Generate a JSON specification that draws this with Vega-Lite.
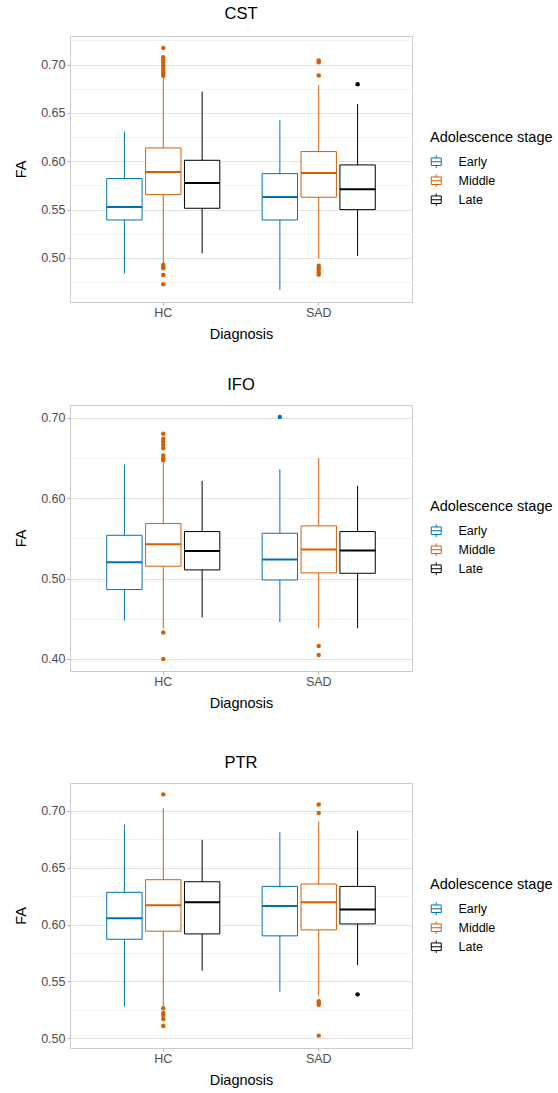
{
  "$schema": "https://vega.github.io/schema/vega-lite/v6.json",
  "background": "white",
  "padding": {"left": 13, "top": 5, "right": 0, "bottom": 0},
  "config": {
    "font": "Liberation Sans",
    "view": {"stroke": "#cccccc", "strokeWidth": 1},
    "axis": {"labelColor": "#4d4d4d", "labelFontSize": 12.5, "titleFontSize": 14.5, "titleFontWeight": "normal", "titleColor": "#000000", "tickColor": "#b3b3b3", "tickSize": 3, "domain": false, "gridColor": "#e3e3e3", "labelPadding": 2, "labelOverlap": false},
    "axisX": {"labelPadding": 1, "titlePadding": 9},
    "title": {"fontSize": 16.5, "fontWeight": "normal", "color": "#000000", "anchor": "middle", "offset": 12},
    "legend": {"titleFontSize": 14.5, "titleFontWeight": "normal", "titleColor": "#000000", "labelFontSize": 12.5, "labelColor": "#000000", "symbolFillColor": "white", "symbolStrokeWidth": 1}
  },
  "datasets": {
    "boxes": [
      {"tract": "CST", "Diagnosis": "HC", "Stage": "Early", "lower": 0.4841, "q1": 0.5393, "median": 0.5528, "q3": 0.5821, "upper": 0.6307},
      {"tract": "CST", "Diagnosis": "HC", "Stage": "Middle", "lower": 0.4945, "q1": 0.5655, "median": 0.5890, "q3": 0.6138, "upper": 0.6869},
      {"tract": "CST", "Diagnosis": "HC", "Stage": "Late", "lower": 0.5048, "q1": 0.5514, "median": 0.5776, "q3": 0.6010, "upper": 0.6721},
      {"tract": "CST", "Diagnosis": "SAD", "Stage": "Early", "lower": 0.4669, "q1": 0.5393, "median": 0.5631, "q3": 0.5872, "upper": 0.6428},
      {"tract": "CST", "Diagnosis": "SAD", "Stage": "Middle", "lower": 0.4993, "q1": 0.5628, "median": 0.5879, "q3": 0.6100, "upper": 0.6786},
      {"tract": "CST", "Diagnosis": "SAD", "Stage": "Late", "lower": 0.5021, "q1": 0.5500, "median": 0.5710, "q3": 0.5962, "upper": 0.6593},
      {"tract": "IFO", "Diagnosis": "HC", "Stage": "Early", "lower": 0.4477, "q1": 0.4863, "median": 0.5203, "q3": 0.5539, "upper": 0.6419},
      {"tract": "IFO", "Diagnosis": "HC", "Stage": "Middle", "lower": 0.4382, "q1": 0.5154, "median": 0.5427, "q3": 0.5685, "upper": 0.6456},
      {"tract": "IFO", "Diagnosis": "HC", "Stage": "Late", "lower": 0.4515, "q1": 0.5108, "median": 0.5344, "q3": 0.5585, "upper": 0.6216},
      {"tract": "IFO", "Diagnosis": "SAD", "Stage": "Early", "lower": 0.4456, "q1": 0.4983, "median": 0.5237, "q3": 0.5564, "upper": 0.6361},
      {"tract": "IFO", "Diagnosis": "SAD", "Stage": "Middle", "lower": 0.4382, "q1": 0.5071, "median": 0.5361, "q3": 0.5656, "upper": 0.6498},
      {"tract": "IFO", "Diagnosis": "SAD", "Stage": "Late", "lower": 0.4382, "q1": 0.5066, "median": 0.5349, "q3": 0.5585, "upper": 0.6154},
      {"tract": "PTR", "Diagnosis": "HC", "Stage": "Early", "lower": 0.5278, "q1": 0.5871, "median": 0.6056, "q3": 0.6284, "upper": 0.6880},
      {"tract": "PTR", "Diagnosis": "HC", "Stage": "Middle", "lower": 0.5281, "q1": 0.5942, "median": 0.6170, "q3": 0.6395, "upper": 0.7023},
      {"tract": "PTR", "Diagnosis": "HC", "Stage": "Late", "lower": 0.5596, "q1": 0.5918, "median": 0.6196, "q3": 0.6377, "upper": 0.6746},
      {"tract": "PTR", "Diagnosis": "SAD", "Stage": "Early", "lower": 0.5409, "q1": 0.5901, "median": 0.6164, "q3": 0.6336, "upper": 0.6813},
      {"tract": "PTR", "Diagnosis": "SAD", "Stage": "Middle", "lower": 0.5374, "q1": 0.5953, "median": 0.6196, "q3": 0.6357, "upper": 0.6906},
      {"tract": "PTR", "Diagnosis": "SAD", "Stage": "Late", "lower": 0.5643, "q1": 0.6006, "median": 0.6132, "q3": 0.6336, "upper": 0.6825}
    ],
    "outliers": [
      {"tract": "CST", "Diagnosis": "HC", "Stage": "Middle", "FA": 0.7172},
      {"tract": "CST", "Diagnosis": "HC", "Stage": "Middle", "FA": 0.7076},
      {"tract": "CST", "Diagnosis": "HC", "Stage": "Middle", "FA": 0.7048},
      {"tract": "CST", "Diagnosis": "HC", "Stage": "Middle", "FA": 0.7021},
      {"tract": "CST", "Diagnosis": "HC", "Stage": "Middle", "FA": 0.6993},
      {"tract": "CST", "Diagnosis": "HC", "Stage": "Middle", "FA": 0.6966},
      {"tract": "CST", "Diagnosis": "HC", "Stage": "Middle", "FA": 0.6938},
      {"tract": "CST", "Diagnosis": "HC", "Stage": "Middle", "FA": 0.6910},
      {"tract": "CST", "Diagnosis": "HC", "Stage": "Middle", "FA": 0.6883},
      {"tract": "CST", "Diagnosis": "HC", "Stage": "Middle", "FA": 0.4928},
      {"tract": "CST", "Diagnosis": "HC", "Stage": "Middle", "FA": 0.4910},
      {"tract": "CST", "Diagnosis": "HC", "Stage": "Middle", "FA": 0.4893},
      {"tract": "CST", "Diagnosis": "HC", "Stage": "Middle", "FA": 0.4824},
      {"tract": "CST", "Diagnosis": "HC", "Stage": "Middle", "FA": 0.4728},
      {"tract": "CST", "Diagnosis": "SAD", "Stage": "Middle", "FA": 0.7041},
      {"tract": "CST", "Diagnosis": "SAD", "Stage": "Middle", "FA": 0.7024},
      {"tract": "CST", "Diagnosis": "SAD", "Stage": "Middle", "FA": 0.6886},
      {"tract": "CST", "Diagnosis": "SAD", "Stage": "Middle", "FA": 0.4921},
      {"tract": "CST", "Diagnosis": "SAD", "Stage": "Middle", "FA": 0.4900},
      {"tract": "CST", "Diagnosis": "SAD", "Stage": "Middle", "FA": 0.4876},
      {"tract": "CST", "Diagnosis": "SAD", "Stage": "Middle", "FA": 0.4848},
      {"tract": "CST", "Diagnosis": "SAD", "Stage": "Middle", "FA": 0.4828},
      {"tract": "CST", "Diagnosis": "SAD", "Stage": "Late", "FA": 0.6797},
      {"tract": "IFO", "Diagnosis": "HC", "Stage": "Middle", "FA": 0.6801},
      {"tract": "IFO", "Diagnosis": "HC", "Stage": "Middle", "FA": 0.6739},
      {"tract": "IFO", "Diagnosis": "HC", "Stage": "Middle", "FA": 0.6705},
      {"tract": "IFO", "Diagnosis": "HC", "Stage": "Middle", "FA": 0.6664},
      {"tract": "IFO", "Diagnosis": "HC", "Stage": "Middle", "FA": 0.6622},
      {"tract": "IFO", "Diagnosis": "HC", "Stage": "Middle", "FA": 0.6531},
      {"tract": "IFO", "Diagnosis": "HC", "Stage": "Middle", "FA": 0.6498},
      {"tract": "IFO", "Diagnosis": "HC", "Stage": "Middle", "FA": 0.6473},
      {"tract": "IFO", "Diagnosis": "HC", "Stage": "Middle", "FA": 0.4328},
      {"tract": "IFO", "Diagnosis": "HC", "Stage": "Middle", "FA": 0.4000},
      {"tract": "IFO", "Diagnosis": "SAD", "Stage": "Early", "FA": 0.7012},
      {"tract": "IFO", "Diagnosis": "SAD", "Stage": "Middle", "FA": 0.4162},
      {"tract": "IFO", "Diagnosis": "SAD", "Stage": "Middle", "FA": 0.4050},
      {"tract": "PTR", "Diagnosis": "HC", "Stage": "Middle", "FA": 0.7146},
      {"tract": "PTR", "Diagnosis": "HC", "Stage": "Middle", "FA": 0.5263},
      {"tract": "PTR", "Diagnosis": "HC", "Stage": "Middle", "FA": 0.5222},
      {"tract": "PTR", "Diagnosis": "HC", "Stage": "Middle", "FA": 0.5205},
      {"tract": "PTR", "Diagnosis": "HC", "Stage": "Middle", "FA": 0.5170},
      {"tract": "PTR", "Diagnosis": "HC", "Stage": "Middle", "FA": 0.5108},
      {"tract": "PTR", "Diagnosis": "SAD", "Stage": "Middle", "FA": 0.7056},
      {"tract": "PTR", "Diagnosis": "SAD", "Stage": "Middle", "FA": 0.6982},
      {"tract": "PTR", "Diagnosis": "SAD", "Stage": "Middle", "FA": 0.5325},
      {"tract": "PTR", "Diagnosis": "SAD", "Stage": "Middle", "FA": 0.5310},
      {"tract": "PTR", "Diagnosis": "SAD", "Stage": "Middle", "FA": 0.5295},
      {"tract": "PTR", "Diagnosis": "SAD", "Stage": "Middle", "FA": 0.5023},
      {"tract": "PTR", "Diagnosis": "SAD", "Stage": "Late", "FA": 0.5386}
    ]
  },
  "resolve": {"scale": {"x": "independent", "y": "independent", "color": "independent", "stroke": "independent"}, "legend": {"stroke": "independent", "color": "independent"}},
  "spacing": 43,
  "vconcat": [
    {
      "resolve": {"scale": {"x": "independent", "y": "independent", "color": "independent", "stroke": "independent"}, "legend": {"stroke": "independent", "color": "independent"}},
      "spacing": 34,
      "vconcat": [
        {
          "width": 342, "height": 266,
          "title": {"text": "CST"},
          "layer": [
            {"data": {"name": "boxes"}, "transform": [{"filter": "datum.tract === 'CST'"}],
             "mark": {"type": "rule", "strokeWidth": 1},
             "encoding": {
               "x": {"field": "Diagnosis", "type": "nominal", "title": "Diagnosis", "scale": {"type": "band", "paddingInner": 0.25, "paddingOuter": 0.225}, "axis": {"labelAngle": 0, "grid": false}},
               "xOffset": {"field": "Stage", "type": "nominal", "sort": ["Early", "Middle", "Late"], "scale": {"paddingInner": 0.09, "paddingOuter": 0.045}},
               "y": {"field": "lower", "type": "quantitative", "title": "FA", "scale": {"domain": [0.4545, 0.7295], "nice": false, "zero": false},
                     "axis": {"titlePadding": 12, "tickCount": 40, "values": [0.475, 0.5, 0.525, 0.55, 0.575, 0.6, 0.625, 0.65, 0.675, 0.7, 0.725],
                              "labelExpr": "abs(datum.value*20 - round(datum.value*20)) > 0.01 ? '' : format(datum.value, '.2f')",
                              "gridColor": {"condition": {"test": "abs(datum.value*20 - round(datum.value*20)) > 0.01", "value": "#f2f2f2"}, "value": "#e3e3e3"},
                              "tickOpacity": {"condition": {"test": "abs(datum.value*20 - round(datum.value*20)) > 0.01", "value": 0}, "value": 1}}},
               "y2": {"field": "upper"},
               "stroke": {"field": "Stage", "type": "nominal", "scale": {"domain": ["Early", "Middle", "Late"], "range": ["#0072B2", "#D55E00", "#000000"]},
                         "legend": {"title": "Adolescence stage", "orient": "none", "legendX": 360, "legendY": 95, "symbolType": "M-0.95,-0.72H0.95M0.95,-0.72V0.72M0.95,0.72H-0.95M-0.95,0.72V-0.72M-0.95,0H0.95M0,-0.72V-1.2M0,0.72V1.2", "symbolSize": 110, "symbolFillColor": "white", "symbolStrokeWidth": 1, "rowPadding": 1, "titlePadding": 10, "labelOffset": 16}}
             }},
            {"data": {"name": "boxes"}, "transform": [{"filter": "datum.tract === 'CST'"}],
             "mark": {"type": "bar", "fill": "white"},
             "encoding": {
               "x": {"field": "Diagnosis", "type": "nominal", "title": "Diagnosis"},
               "xOffset": {"field": "Stage", "type": "nominal", "sort": ["Early", "Middle", "Late"]},
               "y": {"field": "q1", "type": "quantitative", "title": "FA"}, "y2": {"field": "q3"}
             }},
            {"data": {"name": "boxes"}, "transform": [{"filter": "datum.tract === 'CST'"}],
             "mark": {"type": "bar", "filled": false, "strokeWidth": 1},
             "encoding": {
               "x": {"field": "Diagnosis", "type": "nominal", "title": "Diagnosis"},
               "xOffset": {"field": "Stage", "type": "nominal", "sort": ["Early", "Middle", "Late"]},
               "y": {"field": "q1", "type": "quantitative", "title": "FA"}, "y2": {"field": "q3"},
               "stroke": {"field": "Stage", "type": "nominal"}
             }},
            {"data": {"name": "boxes"}, "transform": [{"filter": "datum.tract === 'CST'"}],
             "mark": {"type": "bar", "filled": false, "strokeWidth": 2},
             "encoding": {
               "x": {"field": "Diagnosis", "type": "nominal", "title": "Diagnosis"},
               "xOffset": {"field": "Stage", "type": "nominal", "sort": ["Early", "Middle", "Late"]},
               "y": {"field": "median", "type": "quantitative", "title": "FA"}, "y2": {"field": "median"},
               "stroke": {"field": "Stage", "type": "nominal"}
             }},
            {"data": {"name": "outliers"}, "transform": [{"filter": "datum.tract === 'CST'"}],
             "mark": {"type": "point", "filled": true, "size": 20, "opacity": 1, "shape": "circle"},
             "encoding": {
               "x": {"field": "Diagnosis", "type": "nominal", "title": "Diagnosis"},
               "xOffset": {"field": "Stage", "type": "nominal", "sort": ["Early", "Middle", "Late"]},
               "y": {"field": "FA", "type": "quantitative", "title": "FA"},
               "color": {"field": "Stage", "type": "nominal", "scale": {"domain": ["Early", "Middle", "Late"], "range": ["#0072B2", "#D55E00", "#000000"]}, "legend": null}
             }}
          ]
        },
        {
          "width": 342, "height": 266,
          "title": {"text": "IFO"},
          "layer": [
            {"data": {"name": "boxes"}, "transform": [{"filter": "datum.tract === 'IFO'"}],
             "mark": {"type": "rule", "strokeWidth": 1},
             "encoding": {
               "x": {"field": "Diagnosis", "type": "nominal", "title": "Diagnosis", "scale": {"type": "band", "paddingInner": 0.25, "paddingOuter": 0.225}, "axis": {"labelAngle": 0, "grid": false}},
               "xOffset": {"field": "Stage", "type": "nominal", "sort": ["Early", "Middle", "Late"], "scale": {"paddingInner": 0.09, "paddingOuter": 0.045}},
               "y": {"field": "lower", "type": "quantitative", "title": "FA", "scale": {"domain": [0.385, 0.716], "nice": false, "zero": false},
                     "axis": {"titlePadding": 12, "tickCount": 40, "values": [0.4, 0.45, 0.5, 0.55, 0.6, 0.65, 0.7],
                              "labelExpr": "abs(datum.value*10 - round(datum.value*10)) > 0.01 ? '' : format(datum.value, '.2f')",
                              "gridColor": {"condition": {"test": "abs(datum.value*10 - round(datum.value*10)) > 0.01", "value": "#f2f2f2"}, "value": "#e3e3e3"},
                              "tickOpacity": {"condition": {"test": "abs(datum.value*10 - round(datum.value*10)) > 0.01", "value": 0}, "value": 1}}},
               "y2": {"field": "upper"},
               "stroke": {"field": "Stage", "type": "nominal", "scale": {"domain": ["Early", "Middle", "Late"], "range": ["#0072B2", "#D55E00", "#000000"]},
                         "legend": {"title": "Adolescence stage", "orient": "none", "legendX": 360, "legendY": 95, "symbolType": "M-0.95,-0.72H0.95M0.95,-0.72V0.72M0.95,0.72H-0.95M-0.95,0.72V-0.72M-0.95,0H0.95M0,-0.72V-1.2M0,0.72V1.2", "symbolSize": 110, "symbolFillColor": "white", "symbolStrokeWidth": 1, "rowPadding": 1, "titlePadding": 10, "labelOffset": 16}}
             }},
            {"data": {"name": "boxes"}, "transform": [{"filter": "datum.tract === 'IFO'"}],
             "mark": {"type": "bar", "fill": "white"},
             "encoding": {
               "x": {"field": "Diagnosis", "type": "nominal", "title": "Diagnosis"},
               "xOffset": {"field": "Stage", "type": "nominal", "sort": ["Early", "Middle", "Late"]},
               "y": {"field": "q1", "type": "quantitative", "title": "FA"}, "y2": {"field": "q3"}
             }},
            {"data": {"name": "boxes"}, "transform": [{"filter": "datum.tract === 'IFO'"}],
             "mark": {"type": "bar", "filled": false, "strokeWidth": 1},
             "encoding": {
               "x": {"field": "Diagnosis", "type": "nominal", "title": "Diagnosis"},
               "xOffset": {"field": "Stage", "type": "nominal", "sort": ["Early", "Middle", "Late"]},
               "y": {"field": "q1", "type": "quantitative", "title": "FA"}, "y2": {"field": "q3"},
               "stroke": {"field": "Stage", "type": "nominal"}
             }},
            {"data": {"name": "boxes"}, "transform": [{"filter": "datum.tract === 'IFO'"}],
             "mark": {"type": "bar", "filled": false, "strokeWidth": 2},
             "encoding": {
               "x": {"field": "Diagnosis", "type": "nominal", "title": "Diagnosis"},
               "xOffset": {"field": "Stage", "type": "nominal", "sort": ["Early", "Middle", "Late"]},
               "y": {"field": "median", "type": "quantitative", "title": "FA"}, "y2": {"field": "median"},
               "stroke": {"field": "Stage", "type": "nominal"}
             }},
            {"data": {"name": "outliers"}, "transform": [{"filter": "datum.tract === 'IFO'"}],
             "mark": {"type": "point", "filled": true, "size": 20, "opacity": 1, "shape": "circle"},
             "encoding": {
               "x": {"field": "Diagnosis", "type": "nominal", "title": "Diagnosis"},
               "xOffset": {"field": "Stage", "type": "nominal", "sort": ["Early", "Middle", "Late"]},
               "y": {"field": "FA", "type": "quantitative", "title": "FA"},
               "color": {"field": "Stage", "type": "nominal", "scale": {"domain": ["Early", "Middle", "Late"], "range": ["#0072B2", "#D55E00", "#000000"]}, "legend": null}
             }}
          ]
        }
      ]
    },
    {
      "width": 342, "height": 265,
      "title": {"text": "PTR"},
      "layer": [
        {"data": {"name": "boxes"}, "transform": [{"filter": "datum.tract === 'PTR'"}],
         "mark": {"type": "rule", "strokeWidth": 1},
         "encoding": {
           "x": {"field": "Diagnosis", "type": "nominal", "title": "Diagnosis", "scale": {"type": "band", "paddingInner": 0.25, "paddingOuter": 0.225}, "axis": {"labelAngle": 0, "grid": false}},
           "xOffset": {"field": "Stage", "type": "nominal", "sort": ["Early", "Middle", "Late"], "scale": {"paddingInner": 0.09, "paddingOuter": 0.045}},
           "y": {"field": "lower", "type": "quantitative", "title": "FA", "scale": {"domain": [0.4914, 0.7246], "nice": false, "zero": false},
                 "axis": {"titlePadding": 12, "tickCount": 40, "values": [0.5, 0.525, 0.55, 0.575, 0.6, 0.625, 0.65, 0.675, 0.7],
                          "labelExpr": "abs(datum.value*20 - round(datum.value*20)) > 0.01 ? '' : format(datum.value, '.2f')",
                          "gridColor": {"condition": {"test": "abs(datum.value*20 - round(datum.value*20)) > 0.01", "value": "#f2f2f2"}, "value": "#e3e3e3"},
                          "tickOpacity": {"condition": {"test": "abs(datum.value*20 - round(datum.value*20)) > 0.01", "value": 0}, "value": 1}}},
           "y2": {"field": "upper"},
           "stroke": {"field": "Stage", "type": "nominal", "scale": {"domain": ["Early", "Middle", "Late"], "range": ["#0072B2", "#D55E00", "#000000"]},
                     "legend": {"title": "Adolescence stage", "orient": "none", "legendX": 360, "legendY": 95, "symbolType": "M-0.95,-0.72H0.95M0.95,-0.72V0.72M0.95,0.72H-0.95M-0.95,0.72V-0.72M-0.95,0H0.95M0,-0.72V-1.2M0,0.72V1.2", "symbolSize": 110, "symbolFillColor": "white", "symbolStrokeWidth": 1, "rowPadding": 1, "titlePadding": 10, "labelOffset": 16}}
         }},
        {"data": {"name": "boxes"}, "transform": [{"filter": "datum.tract === 'PTR'"}],
         "mark": {"type": "bar", "fill": "white"},
         "encoding": {
           "x": {"field": "Diagnosis", "type": "nominal", "title": "Diagnosis"},
           "xOffset": {"field": "Stage", "type": "nominal", "sort": ["Early", "Middle", "Late"]},
           "y": {"field": "q1", "type": "quantitative", "title": "FA"}, "y2": {"field": "q3"}
         }},
        {"data": {"name": "boxes"}, "transform": [{"filter": "datum.tract === 'PTR'"}],
         "mark": {"type": "bar", "filled": false, "strokeWidth": 1},
         "encoding": {
           "x": {"field": "Diagnosis", "type": "nominal", "title": "Diagnosis"},
           "xOffset": {"field": "Stage", "type": "nominal", "sort": ["Early", "Middle", "Late"]},
           "y": {"field": "q1", "type": "quantitative", "title": "FA"}, "y2": {"field": "q3"},
           "stroke": {"field": "Stage", "type": "nominal"}
         }},
        {"data": {"name": "boxes"}, "transform": [{"filter": "datum.tract === 'PTR'"}],
         "mark": {"type": "bar", "filled": false, "strokeWidth": 2},
         "encoding": {
           "x": {"field": "Diagnosis", "type": "nominal", "title": "Diagnosis"},
           "xOffset": {"field": "Stage", "type": "nominal", "sort": ["Early", "Middle", "Late"]},
           "y": {"field": "median", "type": "quantitative", "title": "FA"}, "y2": {"field": "median"},
           "stroke": {"field": "Stage", "type": "nominal"}
         }},
        {"data": {"name": "outliers"}, "transform": [{"filter": "datum.tract === 'PTR'"}],
         "mark": {"type": "point", "filled": true, "size": 20, "opacity": 1, "shape": "circle"},
         "encoding": {
           "x": {"field": "Diagnosis", "type": "nominal", "title": "Diagnosis"},
           "xOffset": {"field": "Stage", "type": "nominal", "sort": ["Early", "Middle", "Late"]},
           "y": {"field": "FA", "type": "quantitative", "title": "FA"},
           "color": {"field": "Stage", "type": "nominal", "scale": {"domain": ["Early", "Middle", "Late"], "range": ["#0072B2", "#D55E00", "#000000"]}, "legend": null}
         }}
      ]
    }
  ]
}
